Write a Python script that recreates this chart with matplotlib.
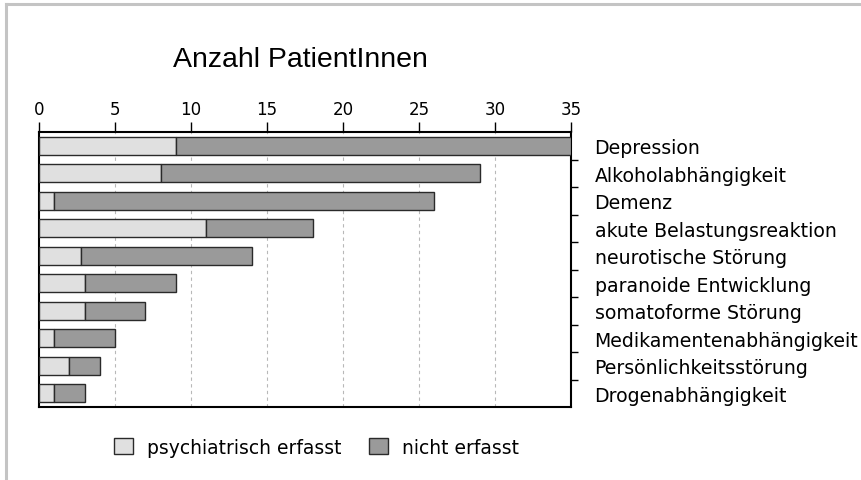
import numpy as np
import matplotlib
matplotlib.use('Agg')
import matplotlib.pyplot as plt
from matplotlib.patches import Patch
from matplotlib.lines import Line2D

## daten
kategorien = ['Depression', 'Alkoholabhängigkeit', 'Demenz', 'akute Belastungsreaktion',
              'neurotische Störung', 'paranoide Entwicklung', 'somatoforme Störung',
              'Medikamentenabhängigkeit', 'Persönlichkeitsstörung', 'Drogenabhängigkeit']
erfasst = [9, 8, 1, 11, 2.75, 3, 3, 1, 2, 1]          # psychiatrisch erfasst
gesamt = [35, 29, 26, 18, 14, 9, 7, 5, 4, 3]           # erfasst + nicht erfasst
nicht_erfasst = [g - e for g, e in zip(gesamt, erfasst)]
xticks = [0, 5, 10, 15, 20, 25, 30, 35]

hell = '#e0e0e0'
dunkel = '#9a9a9a'
kante = '#2a2a2a'

plt.rcParams['font.family'] = 'DejaVu Sans'

fig = plt.figure(figsize=(8.61, 4.81), dpi=100)
ax = fig.add_axes([39/861, 1 - 408/481, (571 - 39)/861, (408 - 133)/481])

y = np.arange(len(kategorien))
ax.barh(y, erfasst, height=0.65, color=hell, edgecolor=kante, linewidth=1, zorder=3)
ax.barh(y, nicht_erfasst, left=erfasst, height=0.65, color=dunkel, edgecolor=kante,
        linewidth=1, zorder=3)

ax.set_xlim(0, 35)
ax.set_ylim(len(kategorien) - 0.5, -0.5)

## x-achse oben
ax.xaxis.tick_top()
ax.set_xticks(xticks)
ax.set_xticklabels([str(t) for t in xticks], fontsize=12)
ax.tick_params(axis='x', direction='out', length=7, width=1, pad=3)
for t in xticks[1:-1]:
    ax.axvline(t, color='#b8b8b8', lw=0.8, ls=(0, (3, 3)), zorder=1)

## kategorien rechts
ax.yaxis.tick_right()
ax.set_yticks(y)
ax.set_yticklabels(kategorien, fontsize=13.6)
ax.tick_params(axis='y', which='major', length=0, pad=17)
ax.set_yticks(np.arange(0.5, len(kategorien) - 1, 1), minor=True)
ax.tick_params(axis='y', which='minor', direction='out', length=5, width=1)

for s in ax.spines.values():
    s.set_linewidth(1.5)
    s.set_color('black')

fig.text(173/861, 1 - 67/481, 'Anzahl PatientInnen', fontsize=20.5,
         family='Liberation Sans', va='baseline', ha='left')

handles = [Patch(facecolor=hell, edgecolor=kante, label='psychiatrisch erfasst'),
           Patch(facecolor=dunkel, edgecolor=kante, label='nicht erfasst')]
fig.legend(handles=handles, loc='center left', bbox_to_anchor=(114/861, 1 - 448/481),
           ncol=2, frameon=False, fontsize=13.5, handlelength=1.0, handleheight=1.0,
           handletextpad=0.75, columnspacing=1.5, borderpad=0, borderaxespad=0)

## rahmen oben und links
fig.add_artist(Line2D([6/861, 1], [1 - 5/481, 1 - 5/481], color='#c4c4c4', lw=2.2))
fig.add_artist(Line2D([6/861, 6/861], [0, 1 - 5/481], color='#c4c4c4', lw=2.2))

plt.savefig('out.png', dpi=100)
